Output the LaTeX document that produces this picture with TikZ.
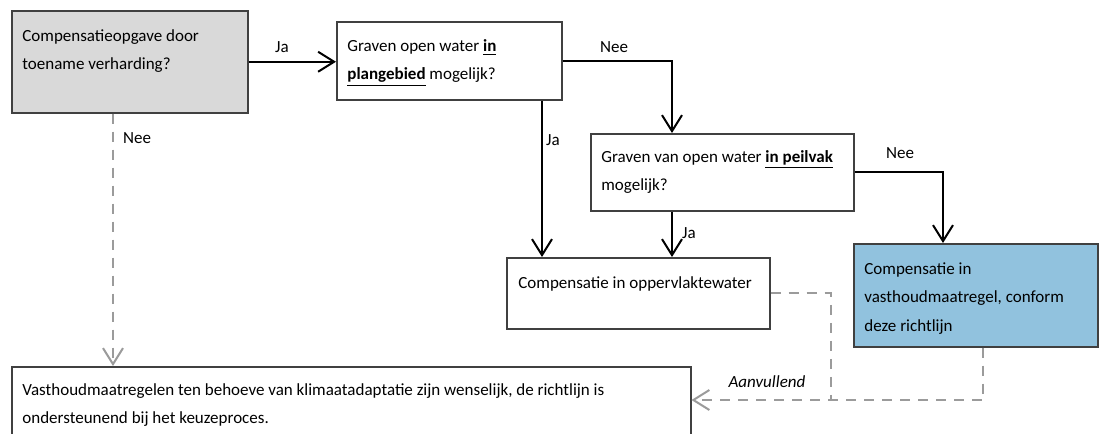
\documentclass[tikz,border=0pt]{standalone}
\usepackage{fontspec}
\setmainfont{Carlito}
\usetikzlibrary{arrows.meta}
\definecolor{boxgray}{RGB}{217,217,217}
\definecolor{boxblue}{RGB}{145,194,222}
\definecolor{dashgray}{RGB}{155,155,155}
\begin{document}
\begin{tikzpicture}[x=0.5pt,y=-0.5pt,
  box/.style={draw=black!75, line width=0.75pt, anchor=north west, inner sep=0pt},
  txt/.style={anchor=north west, inner sep=0pt, align=left, font=\fontsize{8.5}{14.25}\selectfont},
  lbl/.style={inner sep=0pt, font=\fontsize{8.5}{10}\selectfont},
  flow/.style={draw=black, line width=1pt, -{Straight Barb[length=8pt,width=10pt,line width=1pt]}},
  alt/.style={draw=dashgray, line width=1pt, dash pattern=on 5pt off 4pt},
  altarrow/.style={alt, -{Straight Barb[length=8pt,width=10pt,line width=1pt]}}
]
\clip (0,0) rectangle (1099,434);
\fill[white] (0,0) rectangle (1099,434);
% boxes
\node[box, fill=boxgray, minimum width=118pt, minimum height=51pt] (A) at (11,10) {};
\node[box, fill=white, minimum width=112.5pt, minimum height=39pt] (B) at (336,21) {};
\node[box, fill=white, minimum width=131.5pt, minimum height=38.5pt] (C) at (590,133) {};
\node[box, fill=white, minimum width=131.5pt, minimum height=35.5pt] (D) at (506,257) {};
\node[box, fill=boxblue, minimum width=122pt, minimum height=51.5pt] (E) at (853,243) {};
\node[box, fill=white, minimum width=339.5pt, minimum height=50pt] (F) at (11,366) {};
% texts
\node[txt] (tA) at (22,29) {Compensatieopgave door\\toename verharding?};
\node[txt] (tB) at (347,39) {Graven open water \underline{\textbf{in}}\\\underline{\textbf{plangebied}} mogelijk?};
\node[txt] (tC) at (601,150) {Graven van open water \underline{\textbf{in peilvak}}\\mogelijk?};
\node[txt] (tD) at (518,276) {Compensatie in oppervlaktewater};
\node[txt] (tE) at (864,262) {Compensatie in\\vasthoudmaatregel, conform\\deze richtlijn};
\node[txt] (tF) at (22,383) {Vasthoudmaatregelen ten behoeve van klimaatadaptatie zijn wenselijk, de richtlijn is\\ondersteunend bij het keuzeproces.};
% connectors
\draw[flow] (A.east) -- (A.east -| B.west);
\draw[flow] (B.east) -| ([xshift=41pt]C.north west);
\draw[flow] ([xshift=103pt]B.south west) -- ([xshift=103pt]B.south west |- D.north);
\draw[flow] ([xshift=41pt]C.south west) -- ([xshift=41pt]C.south west |- D.north);
\draw[flow] (C.east) -| ([xshift=45pt]E.north west);
\draw[altarrow] ([xshift=51pt]A.south west) -- ([xshift=51pt]A.south west |- F.north);
\coordinate (j) at (831,400);
\draw[alt] (D.east) -| (j);
\draw[altarrow] ([xshift=65pt]E.south west) |- ([yshift=-17pt]F.north east);
% labels
\node[lbl] (l1) at (282,47) {Ja};
\node[lbl] (l2) at (614,47) {Nee};
\node[lbl] (l3) at (553,140) {Ja};
\node[lbl] (l4) at (689,233) {Ja};
\node[lbl] (l5) at (900,153) {Nee};
\node[lbl] (l6) at (137,138) {Nee};
\node[lbl, font=\fontsize{8.5}{10}\selectfont\itshape] (l7) at (767,382) {Aanvullend};
\end{tikzpicture}
\end{document}
